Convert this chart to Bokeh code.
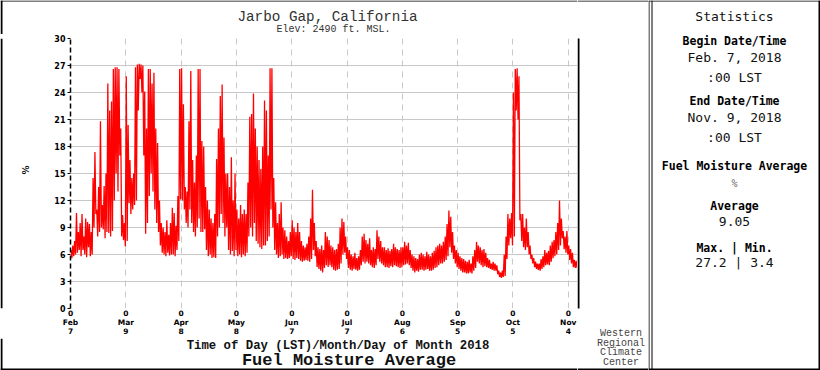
import math
from bokeh.plotting import figure
from bokeh.models import Range1d, FixedTicker
from bokeh.layouts import row, column
from bokeh.core.properties import value
from bokeh.embed import file_html
from bokeh.resources import INLINE

# ---------------- data ----------------
station_title = "Jarbo Gap, California"
elevation_text = "Elev: 2490 ft. MSL."
x_axis_title = "Time of Day (LST)/Month/Day of Month 2018"
chart_title = "Fuel Moisture Average"
y_axis_label = "%"
center_lines = ["Western", "Regional", "Climate", "Center"]

tick_days = [0, 30, 60, 90, 120, 150, 180, 210, 240, 270]
tick_hours = ["0"] * 10
tick_months = ["Feb", "Mar", "Apr", "May", "Jun", "Jul", "Aug", "Sep", "Oct", "Nov"]
tick_dom = ["7", "9", "8", "8", "7", "7", "6", "5", "5", "4"]
y_ticks = [0, 3, 6, 9, 12, 15, 18, 21, 24, 27, 30]
n_days = 275  # Feb 7 -> Nov 9, 2018

# daily maximum / minimum of the hourly fuel moisture (%), day 0 = Feb 7
daily_high = [
    6.5, 7.0, 7.5, 10.6, 8.5, 9.5, 10.5, 8.0, 10.0, 9.6,
    9.4, 8.5, 14.5, 17.4, 11.0, 13.5, 20.8, 11.5, 13.6, 15.0,
    25.0, 22.0, 23.0, 26.6, 26.8, 26.8, 26.6, 20.0, 10.4, 9.5,
    25.8, 20.4, 16.5, 14.5, 15.0, 26.8, 27.1, 27.2, 27.1, 27.0,
    24.1, 20.0, 26.6, 26.6, 25.0, 26.2, 20.0, 18.4, 12.0, 9.5,
    9.0, 8.5, 9.8, 8.2, 9.5, 11.2, 10.6, 9.2, 12.5, 26.6,
    26.7, 22.7, 13.5, 13.0, 20.8, 26.4, 16.5, 14.0, 17.0, 26.6,
    26.6, 18.6, 18.0, 13.5, 12.0, 11.0, 10.0, 9.5, 10.5, 16.6,
    20.0, 23.6, 24.9, 19.0, 15.0, 15.0, 13.5, 16.8, 12.0, 15.0,
    11.0, 10.0, 11.5, 10.5, 11.0, 10.5, 14.0, 21.3, 21.6, 23.9,
    20.0, 18.0, 16.5, 15.5, 18.0, 23.1, 22.0, 17.0, 26.7, 26.7,
    14.5, 11.8, 9.5, 10.5, 11.8, 9.0, 8.7, 8.0, 7.5, 8.5,
    9.8, 9.0, 8.5, 9.5, 8.5, 7.5, 7.0, 6.8, 7.2, 8.0,
    10.0, 13.2, 9.5, 7.5, 6.8, 6.6, 7.0, 6.5, 8.5, 8.0,
    7.6, 7.0, 6.8, 6.5, 6.6, 7.2, 9.0, 10.0, 9.6, 8.0,
    6.8, 6.5, 6.0, 5.8, 6.2, 5.6, 5.8, 6.5, 8.0, 8.3,
    7.6, 7.2, 7.8, 6.5, 6.8, 6.6, 8.7, 8.0, 7.5, 6.8,
    6.8, 6.5, 6.7, 6.4, 6.6, 7.2, 6.8, 6.6, 6.5, 6.8,
    6.8, 7.4, 7.0, 7.3, 6.5, 6.0, 5.8, 5.6, 5.5, 6.0,
    6.2, 6.0, 5.8, 6.3, 6.0, 5.8, 6.2, 6.4, 6.8, 7.0,
    7.2, 7.0, 7.4, 8.0, 9.4, 10.9, 10.2, 8.5, 7.0, 6.5,
    6.2, 5.8, 5.6, 5.5, 5.3, 5.2, 5.4, 5.0, 5.8, 6.5,
    7.4, 7.0, 6.8, 6.5, 6.6, 6.2, 5.6, 5.4, 5.0, 5.2,
    5.0, 4.8, 4.2, 4.0, 4.2, 6.0, 8.0, 10.5, 10.0, 10.6,
    24.0, 26.6, 26.7, 25.8, 10.5, 10.5, 9.0, 10.0, 8.5, 7.0,
    6.0, 5.6, 5.2, 5.0, 5.0, 5.5, 5.8, 6.5, 6.2, 6.4,
    7.0, 7.4, 7.6, 8.5, 9.5, 12.0, 10.0, 8.6, 8.0, 8.6,
    7.0, 6.6, 6.2, 5.4, 5.3,
]
daily_low = [
    5.6, 5.8, 6.0, 6.2, 6.5, 5.8, 6.5, 6.0, 5.7, 6.8,
    5.8, 6.0, 9.0, 10.5, 8.0, 8.5, 9.0, 8.8, 7.8, 8.5,
    8.4, 8.0, 8.6, 12.0, 15.0, 13.0, 17.0, 8.0, 7.6, 6.9,
    7.5, 11.7, 10.5, 11.0, 11.5, 12.0, 22.0, 25.5, 24.0, 17.0,
    8.3, 9.5, 12.5, 15.0, 13.0, 11.0, 9.5, 8.5, 7.0, 6.2,
    6.0, 5.8, 6.2, 5.9, 6.0, 6.0, 5.8, 6.5, 7.5, 12.1,
    12.0, 11.0, 9.5, 9.0, 11.0, 9.5, 8.5, 8.0, 9.0, 10.0,
    8.5, 8.5, 8.8, 6.5, 5.8, 6.0, 5.6, 5.7, 5.6, 8.0,
    9.0, 10.5, 9.5, 8.0, 9.0, 6.5, 6.0, 6.4, 5.8, 6.5,
    5.8, 6.0, 5.7, 6.0, 5.8, 6.2, 8.0, 9.0, 8.0, 9.5,
    7.5, 7.2, 6.8, 6.6, 7.0, 7.0, 7.5, 8.0, 11.0, 9.0,
    6.5, 6.0, 5.6, 5.8, 6.0, 5.5, 5.6, 5.5, 5.6, 5.8,
    5.5, 5.4, 5.6, 5.5, 5.3, 5.2, 5.3, 5.4, 5.3, 5.2,
    5.5, 6.5, 5.8, 4.6, 4.4, 4.2, 4.0, 4.5, 4.8, 4.6,
    4.8, 4.6, 4.3, 4.2, 4.3, 4.4, 5.0, 6.0, 6.2, 5.5,
    4.5, 4.3, 4.2, 4.4, 4.3, 4.2, 4.3, 4.8, 5.2, 5.0,
    5.2, 5.0, 4.8, 4.6, 4.5, 4.8, 5.5, 5.2, 5.0, 4.8,
    4.6, 4.6, 4.5, 4.7, 4.6, 4.8, 4.7, 4.6, 4.5, 4.6,
    4.8, 4.9, 5.0, 4.8, 4.5, 4.2, 4.0, 4.2, 4.1, 4.3,
    4.3, 4.2, 4.3, 4.4, 4.2, 4.2, 4.3, 4.5, 4.6, 4.8,
    5.0, 5.0, 5.2, 5.4, 5.8, 6.8, 6.2, 5.5, 5.0, 4.6,
    4.4, 4.2, 4.0, 4.0, 3.9, 3.9, 4.0, 3.9, 4.2, 4.5,
    5.2, 5.0, 4.8, 4.6, 4.7, 4.6, 4.5, 4.4, 4.3, 4.2,
    4.2, 3.8, 3.5, 3.4, 3.5, 3.6, 5.5, 7.0, 7.8, 7.0,
    8.0, 22.0, 21.0, 9.8, 7.5, 6.8, 6.5, 6.8, 6.0, 5.5,
    5.0, 4.6, 4.4, 4.3, 4.2, 4.4, 4.6, 4.8, 4.9, 4.8,
    5.2, 5.6, 5.8, 6.0, 6.5, 7.0, 7.8, 6.6, 6.2, 6.0,
    5.4, 5.0, 4.6, 4.5, 4.5,
]

stats_lines = [
    ("Statistics", "normal", "13px", "#111111"),
    ("Begin Date/Time", "bold", "11.5px", "#000000"),
    ("Feb. 7, 2018", "normal", "13px", "#111111"),
    (":00 LST", "normal", "13px", "#111111"),
    ("End Date/Time", "bold", "11.5px", "#000000"),
    ("Nov. 9, 2018", "normal", "13px", "#111111"),
    (":00 LST", "normal", "13px", "#111111"),
    ("Fuel Moisture Average", "bold", "11.5px", "#000000"),
    ("%", "normal", "10px", "#666666"),
    ("Average", "bold", "11.5px", "#000000"),
    ("9.05", "normal", "13px", "#111111"),
    ("Max. | Min.", "bold", "11.5px", "#000000"),
    ("27.2 | 3.4", "normal", "13px", "#111111"),
]
stats_rows_y = [16, 40.5, 57, 77, 100, 117, 137, 165, 183, 205, 221, 247, 262]

# ------------- helpers -------------
def panel(x0, y0, w, h):
    """A figure whose frame is its whole canvas, in page-pixel coordinates."""
    f = figure(width=w, height=h, title=None, toolbar_location=None,
               output_backend="svg", x_axis_type=None, y_axis_type=None,
               x_range=Range1d(x0, x0 + w), y_range=Range1d(y0 + h, y0),
               min_border=0)
    f.outline_line_color = None
    f.background_fill_color = "white"
    f.border_fill_color = "white"
    return f

def put(f, txt, x, y, size, font="Liberation Mono", style="normal", color="#222222", angle=0.0):
    f.text(x=[x], y=[y], text=[txt], text_align="center", text_baseline="middle",
           text_font=value(font), text_font_size=value(size), text_font_style=style,
           text_color=color, angle=angle)

def rule(f, x0, y0, x1, y1, w=1, color="black"):
    f.segment(x0=[x0], y0=[y0], x1=[x1], y1=[y1], line_color=color, line_width=w)

# ------------- main plot -------------
xs, ys = [], []
for d, (hi, lo) in enumerate(zip(daily_high, daily_low)):
    xs += [d + 0.25, d + 0.75]
    ys += [hi, lo]

TOP, MID = 34, 304            # heights of the left column pieces
BOT = 370 - TOP - MID
LW = 30                       # left strip width
p = figure(width=577 - LW, height=MID, title=None, toolbar_location=None,
           output_backend="svg",
           x_range=Range1d(0, n_days), y_range=Range1d(0, 30),
           min_border_left=70 - LW, min_border_right=0,
           min_border_top=38 - TOP, min_border_bottom=MID - 270 - (38 - TOP))
p.outline_line_color = None
p.background_fill_color = "white"
p.border_fill_color = "white"

p.ygrid.ticker = FixedTicker(ticks=y_ticks)
p.ygrid.grid_line_color = "#c8c8c8"
p.ygrid.grid_line_width = 1
p.xgrid.ticker = FixedTicker(ticks=tick_days)
p.xgrid.grid_line_color = "#c8c8c8"
p.xgrid.grid_line_dash = "6 5"

p.yaxis.ticker = FixedTicker(ticks=y_ticks)
p.yaxis.axis_line_color = "black"
p.yaxis.axis_line_dash = "5 3"
p.yaxis.axis_line_width = 1.5
p.yaxis.major_tick_in = 0
p.yaxis.major_tick_out = 3
p.yaxis.major_tick_line_color = "black"
p.yaxis.minor_tick_line_color = None
p.yaxis.major_label_text_font = "DejaVu Sans"
p.yaxis.major_label_text_font_size = "8px"
p.yaxis.major_label_text_font_style = "bold"
p.yaxis.major_label_text_color = "black"
p.yaxis.major_label_standoff = 2

p.xaxis.ticker = FixedTicker(ticks=tick_days)
p.xaxis.major_label_overrides = {
    d: f"{h}\n{m}\n{dm}" for d, h, m, dm in zip(tick_days, tick_hours, tick_months, tick_dom)
}
p.xaxis.axis_line_color = None
p.xaxis.major_tick_in = 0
p.xaxis.major_tick_out = 0
p.xaxis.major_tick_line_color = None
p.xaxis.minor_tick_line_color = None
p.xaxis.major_label_text_font = "DejaVu Sans"
p.xaxis.major_label_text_font_size = "7.5px"
p.xaxis.major_label_text_line_height = 1.0
p.xaxis.major_label_text_font_style = "bold"
p.xaxis.major_label_text_color = "black"
p.xaxis.major_label_standoff = 0

p.line(xs, ys, line_color="#ff0000", line_width=1.3)

# ------------- text / border panels -------------
top = panel(0, 0, 577, TOP)
rule(top, 0, 0.5, 577, 0.5, 1)
rule(top, 1, 0, 1, TOP, 2)
put(top, station_title, 327, 16, "14.3px", color="#333333")
put(top, elevation_text, 333, 28.5, "10px", color="#333333")

left = panel(0, TOP, LW, MID)
rule(left, 1, TOP, 1, TOP + MID, 2)
put(left, y_axis_label, 25, 182, "9px", font="DejaVu Sans", style="bold",
    color="#111111", angle=math.pi / 2)

bottom = panel(0, TOP + MID, 577, BOT)
rule(bottom, 1, TOP + MID, 1, 370, 2)
rule(bottom, 0, 369, 577, 369, 2)
put(bottom, x_axis_title, 337.5, 345.5, "12.3px", style="bold", color="#111111")
put(bottom, chart_title, 348.5, 359.5, "17px", style="bold", color="#111111")

mid = panel(577, 0, 71, 370)
rule(mid, 577, 0.5, 648, 0.5, 1)
rule(mid, 577, 369, 648, 369, 2)
rule(mid, 578, 38, 578, 308, 2)
for i, t in enumerate(center_lines):
    put(mid, t, 620.5, 333 + i * 9.6, "10px", color="#444444")

stats = panel(648, 0, 172, 370)
rule(stats, 648, 0.5, 820, 0.5, 1)
rule(stats, 648, 369, 820, 369, 2)
rule(stats, 648.5, 0, 648.5, 370, 1)
rule(stats, 651.5, 0, 651.5, 370, 1)
rule(stats, 819, 0, 819, 370, 2)
for (t, st, sz, col), yy in zip(stats_lines, stats_rows_y):
    put(stats, t, 734, yy, sz, font="DejaVu Sans Mono", style=st, color=col)

layout = row(column(top, row(left, p), bottom), mid, stats)
open("out.html", "w").write(file_html(layout, INLINE))
